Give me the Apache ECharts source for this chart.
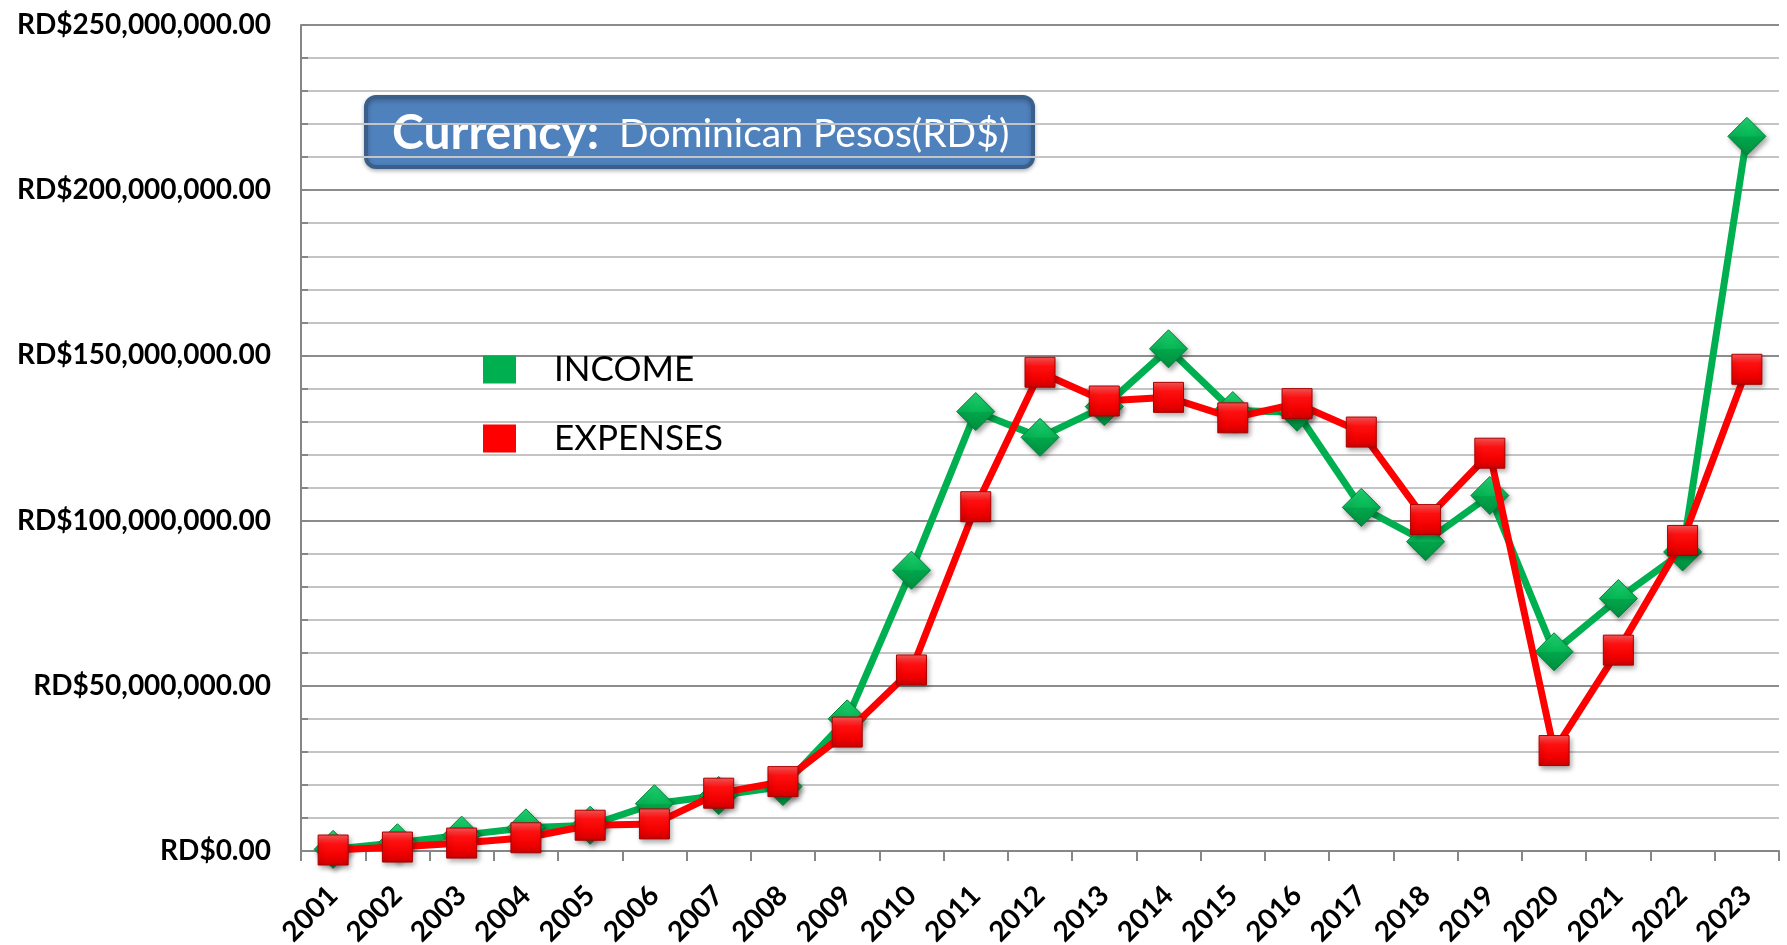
<!DOCTYPE html>
<html>
<head>
<meta charset="utf-8">
<title>Income and Expenses 2001–2023</title>
<script src="https://cdn.jsdelivr.net/npm/echarts@6/dist/echarts.min.js"></script>
<style>
  html, body { margin: 0; padding: 0; background: #ffffff; }
  #chart { width: 1787px; height: 945px; }
</style>
</head>
<body>
<div id="chart"></div>
<script>
// Years on the category axis
const years = ['2001', '2002', '2003', '2004', '2005', '2006', '2007', '2008', '2009', '2010',
  '2011', '2012', '2013', '2014', '2015', '2016', '2017', '2018', '2019', '2020',
  '2021', '2022', '2023'];

// Yearly income, RD$
const income = [500000, 2500000, 4800000, 7000000, 7800000, 14300000, 16800000, 19500000,
  40000000, 85000000, 133000000, 125200000, 134500000, 152000000, 133300000, 132800000,
  104000000, 93600000, 107600000, 60300000, 76400000, 90500000, 216300000];

// Yearly expenses, RD$
const expenses = [300000, 1200000, 2400000, 4000000, 7800000, 8200000, 17500000, 21000000,
  36000000, 54800000, 104200000, 144900000, 136200000, 137300000, 131100000, 135400000,
  126800000, 100300000, 120400000, 30400000, 60800000, 94000000, 145800000];

// Value axis range and label step
const yMax = 250000000;
const yStep = 50000000;

const seriesNames = ['INCOME', 'EXPENSES'];
const currencyTitle = 'Currency:';
const currencyName = 'Dominican Pesos(RD$)';

function money(v) {
  return 'RD$' + Math.round(v).toString().replace(/\B(?=(\d{3})+(?!\d))/g, ',') + '.00';
}

const chart = echarts.init(document.getElementById('chart'), null, { renderer: 'canvas' });

const GREEN = '#00B050';
const RED = '#FF0000';

const diamondFill = new echarts.graphic.LinearGradient(0, 0, 0, 1, [
  { offset: 0, color: '#22d673' },
  { offset: 0.5, color: '#06b554' },
  { offset: 0.51, color: '#00a64b' },
  { offset: 1, color: '#008f3f' }
]);
const squareFill = new echarts.graphic.LinearGradient(0, 0, 0, 1, [
  { offset: 0, color: '#ff5a5a' },
  { offset: 0.3, color: '#ff1010' },
  { offset: 0.7, color: '#f20000' },
  { offset: 1, color: '#cc0000' }
]);

const option = {
  backgroundColor: '#ffffff',
  animation: false,
  grid: { left: 301, right: 8, top: 25, bottom: 94, containLabel: false, outerBoundsMode: 'none' },
  legend: {
    orient: 'vertical',
    left: 478,
    top: 346,
    icon: 'rect',
    itemWidth: 33,
    itemHeight: 28,
    itemGap: 32,
    selectedMode: false,
    textStyle: {
      fontFamily: 'Lato',
      fontSize: 35,
      color: '#000000',
      lineHeight: 37,
      padding: [0, 0, 0, 33]
    },
    data: [
      { name: seriesNames[0], itemStyle: { color: GREEN, borderWidth: 0, shadowBlur: 0 } },
      { name: seriesNames[1], itemStyle: { color: RED, borderWidth: 0, shadowBlur: 0 } }
    ]
  },
  xAxis: {
    type: 'category',
    data: years,
    boundaryGap: true,
    axisLine: { show: true, lineStyle: { color: '#868686', width: 2 } },
    axisTick: { show: true, length: 10, lineStyle: { color: '#868686', width: 2 } },
    axisLabel: {
      rotate: 45,
      margin: 40,
      fontFamily: 'Lato',
      fontWeight: 'bold',
      fontSize: 28,
      color: '#000000',
      interval: 0
    },
    splitLine: { show: false }
  },
  yAxis: {
    type: 'value',
    min: 0,
    max: yMax,
    interval: yStep,
    axisLine: { show: true, lineStyle: { color: '#868686', width: 2 } },
    axisTick: { show: true, inside: true, length: 7, lineStyle: { color: '#868686', width: 2 } },
    minorTick: { show: true, splitNumber: 5, length: 7, lineStyle: { color: '#868686', width: 2 } },
    axisLabel: {
      margin: 30,
      fontFamily: 'Lato',
      fontWeight: 'bold',
      fontSize: 28,
      color: '#000000',
      formatter: money
    },
    splitLine: { show: true, lineStyle: { color: '#8c8c8c', width: 2 } },
    minorSplitLine: { show: true, lineStyle: { color: '#c4c4c4', width: 2 } }
  },
  series: [
    {
      name: seriesNames[0],
      type: 'line',
      data: income,
      symbol: 'diamond',
      symbolSize: [38, 38],
      lineStyle: { color: GREEN, width: 7 },
      itemStyle: {
        color: diamondFill,
        borderColor: '#00833a',
        borderWidth: 1,
        shadowColor: 'rgba(0,0,0,0.35)',
        shadowBlur: 5,
        shadowOffsetX: 2,
        shadowOffsetY: 3
      },
      emphasis: { disabled: true },
      z: 2
    },
    {
      name: seriesNames[1],
      type: 'line',
      data: expenses,
      symbol: 'rect',
      symbolSize: [30, 30],
      lineStyle: { color: RED, width: 7 },
      itemStyle: {
        color: squareFill,
        borderColor: '#a80000',
        borderWidth: 1,
        shadowColor: 'rgba(0,0,0,0.35)',
        shadowBlur: 5,
        shadowOffsetX: 2,
        shadowOffsetY: 3
      },
      emphasis: { disabled: true },
      z: 3
    }
  ],
  graphic: [
    {
      type: 'group',
      left: 364,
      top: 95,
      z: 10,
      children: [
        {
          type: 'rect',
          shape: { x: 0, y: 0, width: 667, height: 70, r: 10 },
          style: {
            fill: '#4F81BD',
            stroke: '#3A5F8B',
            lineWidth: 4,
            shadowColor: 'rgba(0,0,0,0.25)',
            shadowBlur: 4,
            shadowOffsetY: 2
          }
        },
        {
          type: 'text',
          x: 26,
          y: 37,
          style: {
            text: '{b|' + currencyTitle + '}{n|  ' + currencyName + '}',
            verticalAlign: 'middle',
            rich: {
              b: { fontFamily: 'Lato', fontWeight: 'bold', fontSize: 48, fill: '#ffffff' },
              n: { fontFamily: 'Lato', fontSize: 39, fill: '#ffffff' }
            }
          }
        }
      ]
    }
  ]
};

chart.setOption(option);
</script>
</body>
</html>
